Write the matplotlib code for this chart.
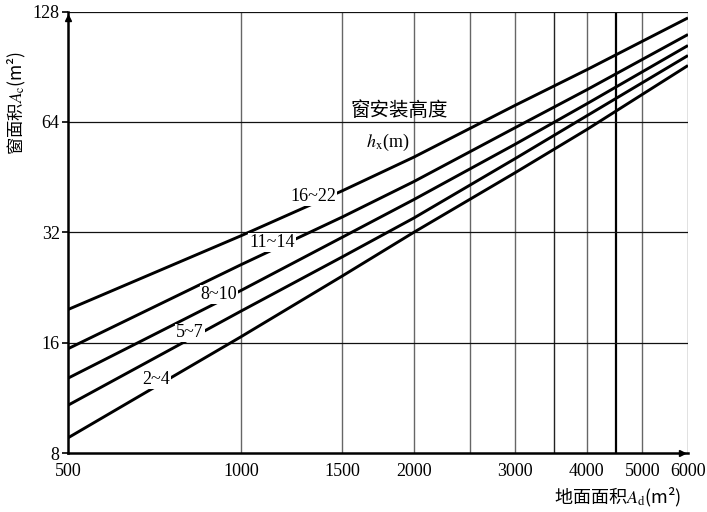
import matplotlib
matplotlib.use("Agg")
import matplotlib.pyplot as plt
from matplotlib.ticker import FixedLocator, NullFormatter

# x: 地面面积 (m2), values read at the grid columns
floor_area = [500, 1000, 1500, 2000, 3000, 4000, 6000]

# y: 窗面积 (m2) for each window height group
win_16_22 = [19.7, 31.3, 41.5, 51.3, 71.0, 88.8, 123.0]
win_11_14 = [15.4, 26.1, 35.2, 44.0, 61.7, 78.3, 110.8]
win_8_10 = [12.8, 22.2, 31.0, 39.3, 55.6, 71.7, 103.4]
win_5_7 = [10.8, 19.5, 27.4, 35.0, 50.8, 66.5, 97.1]
win_2_4 = [8.8, 16.6, 24.3, 32.0, 46.5, 61.0, 91.2]

series = [win_16_22, win_11_14, win_8_10, win_5_7, win_2_4]
series_labels = ["16~22", "11~14", "8~10", "5~7", "2~4"]
# where each group label sits on its curve (data coords)
label_pos = [(1334, 40.0), (1132, 30.0), (915, 21.7), (815, 17.0), (711, 12.7)]

x_ticks = [500, 1000, 1500, 2000, 3000, 4000, 5000, 6000]
x_extra_grid = [2500, 3500, 4500]
y_ticks = [8, 16, 32, 64, 128]

SERIF = ["Liberation Serif", "Noto Sans CJK SC"]
CJK = ["Noto Sans CJK SC", "DejaVu Sans"]

plt.rcParams["mathtext.fontset"] = "stix"

fig = plt.figure(figsize=(7.07, 5.12), dpi=100)
ax = fig.add_axes([0.0962, 0.1152, 0.8769, 0.8623])

ax.set_xscale("log")
ax.set_yscale("log", base=2)
ax.set_xlim(500, 6000)
ax.set_ylim(8, 128)

# grid
for xv in x_ticks[1:] + x_extra_grid:
    if xv == 4500:
        ax.axvline(xv, color="black", lw=1.6, zorder=1)
    elif xv == 3500:
        ax.axvline(xv, color="#222222", lw=1.0, zorder=1)
    else:
        ax.axvline(xv, color="#666666", lw=1.0, zorder=1)
for yv in y_ticks[1:]:
    ax.axhline(yv, color="#111111", lw=0.9, zorder=1)

for ys in series:
    ax.plot(floor_area, ys, color="black", lw=2.1, solid_capstyle="butt", zorder=3)

for txt, (lx, ly) in zip(series_labels, label_pos):
    ax.text(lx, ly, txt, family=SERIF, fontsize=13, ha="center", va="center",
            zorder=4, bbox=dict(facecolor="white", edgecolor="none", pad=0.6))

ax.text(0.535, 0.776, "窗安装高度", family=CJK, fontsize=14,
        ha="center", va="center", transform=ax.transAxes, zorder=4)
ax.text(0.516, 0.704, "$h_{\\mathrm{x}}$(m)", family=SERIF, fontsize=13,
        ha="center", va="center", transform=ax.transAxes, zorder=4)

# ticks
ax.xaxis.set_major_locator(FixedLocator(x_ticks))
ax.set_xticklabels([str(v) for v in x_ticks], family=SERIF, fontsize=13)
ax.xaxis.set_minor_locator(FixedLocator([]))
ax.xaxis.set_minor_formatter(NullFormatter())
ax.yaxis.set_major_locator(FixedLocator(y_ticks))
ax.set_yticklabels([str(v) for v in y_ticks], family=SERIF, fontsize=13)
ax.yaxis.set_minor_locator(FixedLocator([]))
ax.tick_params(axis="x", length=0, pad=7, colors="black")
ax.tick_params(axis="y", length=4, width=1.2, pad=2, colors="black")

for side in ["top", "right"]:
    ax.spines[side].set_visible(False)
for side in ["left", "bottom"]:
    ax.spines[side].set_linewidth(1.8)
    ax.spines[side].set_zorder(5)

# axis arrows
ax.plot(0, 0.985, marker="^", color="black", markersize=5,
        transform=ax.transAxes, clip_on=False, zorder=6)
ax.plot(0.99, 0, marker=">", color="black", markersize=5,
        transform=ax.transAxes, clip_on=False, zorder=6)

fig.text(0.024, 0.80, "窗面积$A_\\mathrm{c}$(m²)", family=CJK, fontsize=12.5,
         rotation=90, ha="center", va="center")
fig.text(0.874, 0.029, "地面面积$A_\\mathrm{d}$(m²)", family=CJK, fontsize=13,
         ha="center", va="center")

fig.savefig("out.png", dpi=100)
